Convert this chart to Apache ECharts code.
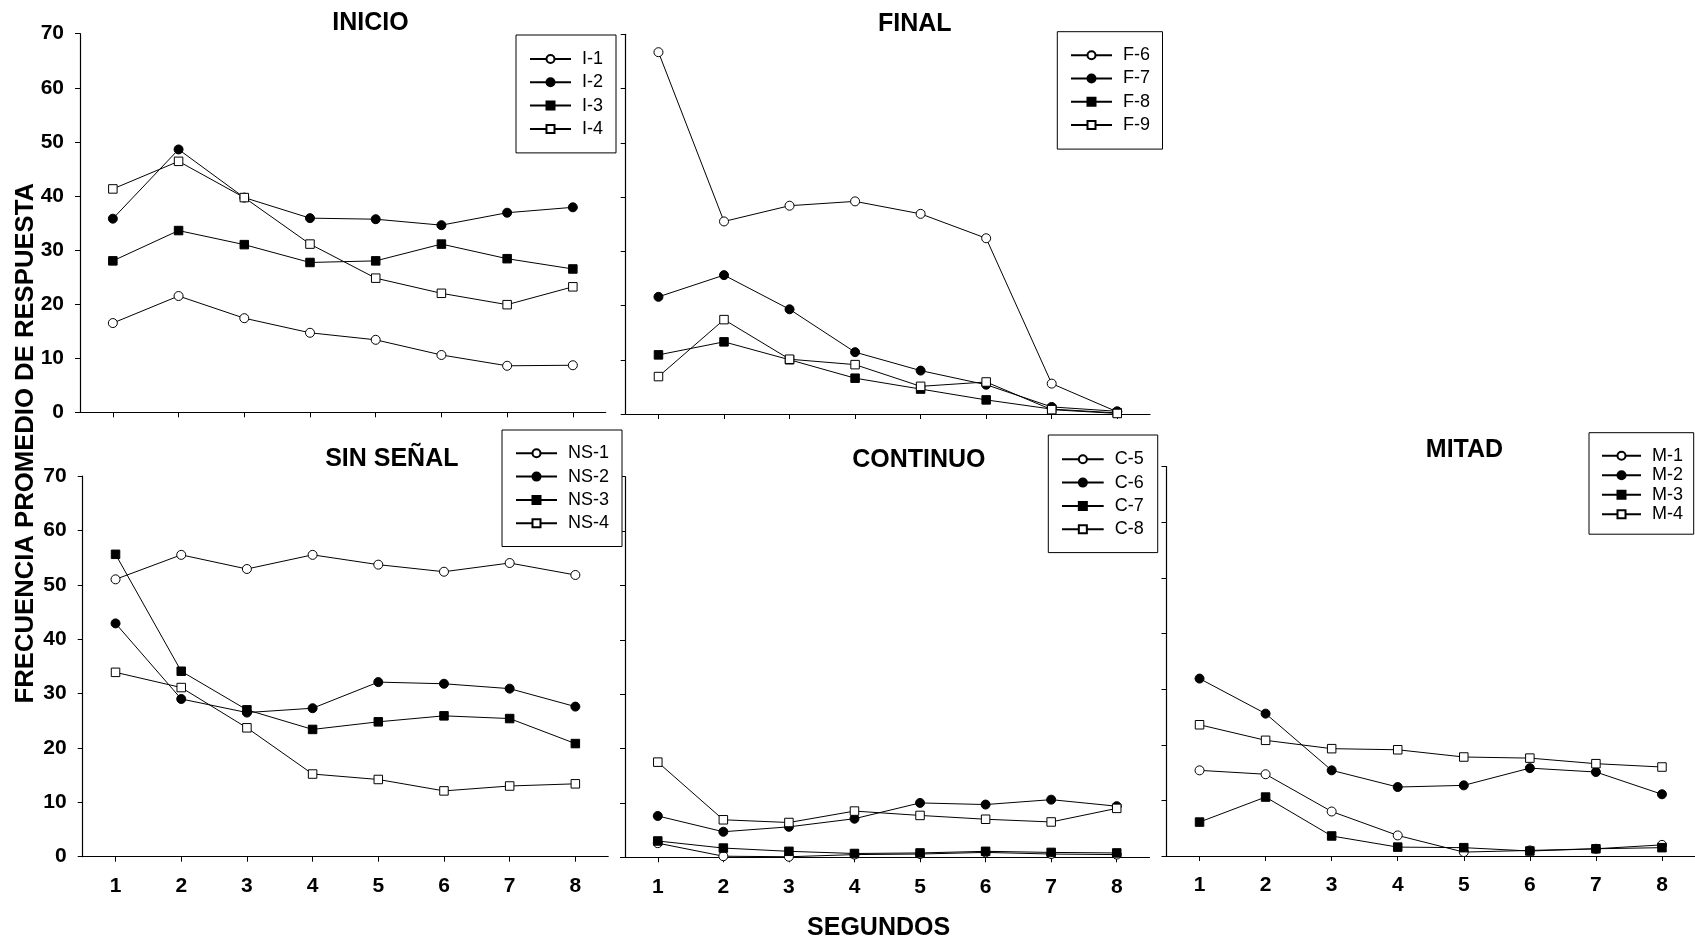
<!DOCTYPE html>
<html>
<head>
<meta charset="utf-8">
<script src="https://cdn.jsdelivr.net/npm/echarts@6/dist/echarts.min.js"></script>
<style>
  html, body { margin: 0; padding: 0; background: #fff; }
  #chart { width: 1695px; height: 942px; }
</style>
</head>
<body>
<div id="chart"></div>
<script>
// Seconds on the x axis
const segundos = ['1', '2', '3', '4', '5', '6', '7', '8'];

// INICIO
const I1 = [16.5, 21.5, 17.4, 14.7, 13.4, 10.6, 8.6, 8.7];
const I2 = [35.8, 48.6, 39.7, 35.9, 35.7, 34.6, 36.9, 37.9];
const I3 = [28.0, 33.6, 31.0, 27.7, 28.0, 31.1, 28.4, 26.5];
const I4 = [41.3, 46.4, 39.7, 31.1, 24.8, 22.0, 19.9, 23.2];

// FINAL
const F6 = [66.7, 35.5, 38.4, 39.2, 36.9, 32.4, 5.6, 0.4];
const F7 = [21.6, 25.6, 19.3, 11.4, 8.0, 5.4, 1.3, 0.5];
const F8 = [10.9, 13.3, 10.0, 6.6, 4.6, 2.6, 0.9, 0.2];
const F9 = [6.9, 17.4, 10.1, 9.1, 5.1, 5.9, 0.8, 0.1];

// SIN SEÑAL
const NS1 = [51.0, 55.5, 52.9, 55.5, 53.7, 52.4, 54.0, 51.8];
const NS2 = [42.9, 29.0, 26.5, 27.3, 32.1, 31.8, 30.9, 27.6];
const NS3 = [55.6, 34.1, 27.0, 23.4, 24.8, 25.9, 25.4, 20.8];
const NS4 = [33.9, 31.1, 23.7, 15.2, 14.2, 12.1, 13.0, 13.4];

// CONTINUO
const C5 = [2.6, 0.2, 0.1, 0.5, 0.6, 0.9, 0.6, 0.5];
const C6 = [7.6, 4.7, 5.6, 7.1, 10.0, 9.7, 10.6, 9.4];
const C7 = [3.0, 1.7, 1.1, 0.7, 0.8, 1.1, 0.9, 0.8];
const C8 = [17.5, 6.9, 6.4, 8.5, 7.7, 7.0, 6.5, 9.0];

// MITAD
const M1 = [15.4, 14.7, 8.0, 3.7, 0.7, 1.0, 1.3, 2.0];
const M2 = [31.9, 25.6, 15.4, 12.4, 12.7, 15.8, 15.1, 11.1];
const M3 = [6.1, 10.6, 3.6, 1.6, 1.5, 0.9, 1.3, 1.5];
const M4 = [23.6, 20.8, 19.3, 19.1, 17.8, 17.6, 16.6, 16.0];

const FONT = '"Liberation Sans", Arial, Helvetica, sans-serif';

// Panel frames: left, top, width, height
const grids = [
  { left: 80,     top: 33.7,  width: 525.7, height: 378.6 }, // INICIO
  { left: 625.7,  top: 34.3,  width: 524.3, height: 379.7 }, // FINAL
  { left: 82.7,   top: 476,   width: 525.5, height: 380.7 }, // SIN SEÑAL
  { left: 625,    top: 476.7, width: 524.5, height: 380.6 }, // CONTINUO
  { left: 1166.5, top: 466.7, width: 533,   height: 389.3 }  // MITAD
];

const showY = [true, false, true, false, false];
const showX = [false, false, true, true, true];

const xAxes = grids.map((g, i) => ({
  type: 'category',
  gridIndex: i,
  data: segundos,
  boundaryGap: true,
  axisLine: { show: true, lineStyle: { color: '#000', width: 1.2 } },
  axisTick: { show: true, alignWithLabel: true, interval: 0, length: 5, lineStyle: { color: '#000', width: 1 } },
  axisLabel: { show: showX[i], interval: 0, margin: 19, color: '#000', fontSize: 21, fontWeight: 'bold', fontFamily: FONT },
  splitLine: { show: false }
}));

const yAxes = grids.map((g, i) => ({
  type: 'value',
  gridIndex: i,
  min: 0,
  max: 70,
  interval: 10,
  axisLine: { show: true, lineStyle: { color: '#000', width: 1.2 } },
  axisTick: { show: true, length: 5, lineStyle: { color: '#000', width: 1 } },
  axisLabel: { show: showY[i], margin: 16, color: '#000', fontSize: 21, fontWeight: 'bold', fontFamily: FONT },
  splitLine: { show: false }
}));

// Marker styles: open circle, filled circle, filled square, open square
const markers = [
  { symbol: 'circle', size: 9, fill: '#fff' },
  { symbol: 'circle', size: 9, fill: '#000' },
  { symbol: 'rect',   size: 8.5, fill: '#000' },
  { symbol: 'rect',   size: 8.5, fill: '#fff' }
];

function line(name, data, gridIdx, kind) {
  const m = markers[kind];
  return {
    type: 'line',
    name: name,
    xAxisIndex: gridIdx,
    yAxisIndex: gridIdx,
    data: data,
    symbol: m.symbol,
    symbolSize: m.size,
    showAllSymbol: true,
    animation: false,
    lineStyle: { color: '#000', width: 1 },
    itemStyle: { color: m.fill, borderColor: '#000', borderWidth: 1, opacity: 1 },
    emphasis: { disabled: true }
  };
}

const panels = [
  { names: ['I-1', 'I-2', 'I-3', 'I-4'], data: [I1, I2, I3, I4] },
  { names: ['F-6', 'F-7', 'F-8', 'F-9'], data: [F6, F7, F8, F9] },
  { names: ['NS-1', 'NS-2', 'NS-3', 'NS-4'], data: [NS1, NS2, NS3, NS4] },
  { names: ['C-5', 'C-6', 'C-7', 'C-8'], data: [C5, C6, C7, C8] },
  { names: ['M-1', 'M-2', 'M-3', 'M-4'], data: [M1, M2, M3, M4] }
];

const series = [];
panels.forEach((p, gi) => {
  p.names.forEach((n, k) => series.push(line(n, p.data[k], gi, k)));
});

// Legend boxes: position, padding [t, r, b, l], gap between rows
const legendBoxes = [
  { left: 516,    top: 35,    padding: [15, 13, 15, 13], gap: 5.3, w: 41 },
  { left: 1057.3, top: 31.7,  padding: [14.5, 12.5, 15, 12.7], gap: 5.3, w: 41 },
  { left: 502,    top: 430,   padding: [14.3, 13, 14.3, 13], gap: 5.3, w: 41 },
  { left: 1048.3, top: 435,   padding: [15.3, 14, 14.4, 12.7], gap: 5.3, w: 41.7 },
  { left: 1589,   top: 432.7, padding: [14, 10.7, 11, 12], gap: 1.5, w: 39 }
];

const legends = legendBoxes.map((b, i) => ({
  data: panels[i].names,
  orient: 'vertical',
  left: b.left,
  top: b.top,
  padding: b.padding,
  itemGap: b.gap,
  itemWidth: b.w,
  itemHeight: 10,
  selectedMode: false,
  borderColor: '#000',
  borderWidth: 1,
  backgroundColor: '#fff',
  textStyle: { color: '#000', fontSize: 18, fontFamily: FONT, lineHeight: 18, padding: [0, 0, 0, 6] }
}));

function label(text, x, y, size, rotation) {
  return {
    type: 'text',
    x: x,
    y: y,
    rotation: rotation || 0,
    style: {
      text: text,
      fill: '#000',
      fontSize: size,
      fontWeight: 'bold',
      fontFamily: FONT,
      align: 'center',
      verticalAlign: 'middle'
    }
  };
}

const option = {
  backgroundColor: '#fff',
  animation: false,
  grid: grids.map(g => Object.assign({ containLabel: false }, g)),
  xAxis: xAxes,
  yAxis: yAxes,
  legend: legends,
  series: series,
  graphic: [
    label('INICIO', 370.4, 23.3, 25),
    label('FINAL', 914.8, 23.7, 25),
    label('SIN SEÑAL', 391.8, 459, 25),
    label('CONTINUO', 918.8, 460.5, 25),
    label('MITAD', 1464.5, 450.5, 25),
    label('SEGUNDOS', 878.6, 928.3, 25),
    label('FRECUENCIA PROMEDIO DE RESPUESTA', 25.5, 443.2, 25.7, Math.PI / 2)
  ]
};

const chart = echarts.init(document.getElementById('chart'), null, { renderer: 'canvas' });
chart.setOption(option);
</script>
</body>
</html>
